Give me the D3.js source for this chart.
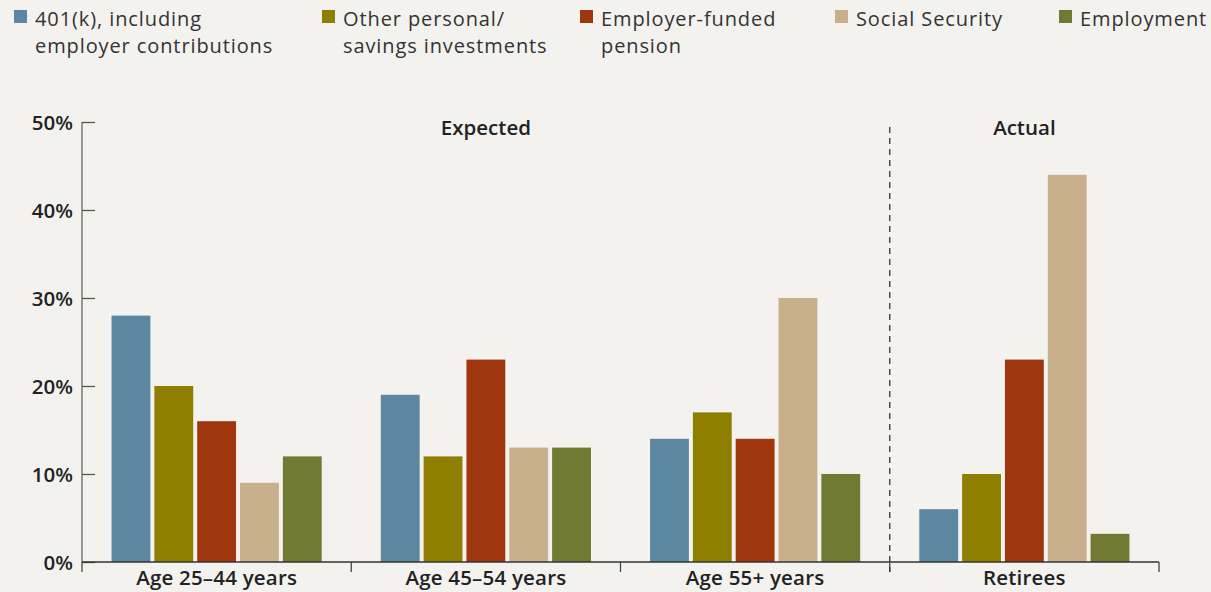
<!DOCTYPE html>
<html>
<head>
<meta charset="utf-8">
<script src="https://cdn.jsdelivr.net/npm/d3@7"></script>
<style>
  html, body { margin: 0; padding: 0; background: #F3F2EE; }
  svg { display: block; font-family: "Open Sans", Lato, sans-serif; }
</style>
</head>
<body>
<svg id="chart" width="1211" height="592"></svg>
<script>
const groups = ["Age 25–44 years", "Age 45–54 years", "Age 55+ years", "Retirees"];
const seriesNames = ["401(k), including employer contributions", "Other personal/ savings investments", "Employer-funded pension", "Social Security", "Employment"];
const legendLines = [["401(k), including", "employer contributions"], ["Other personal/", "savings investments"], ["Employer-funded", "pension"], ["Social Security"], ["Employment"]];
const colors = ["#5B87A1", "#8E7F00", "#A0360E", "#C9B08C", "#717A33"];
const values401k = [28, 19, 14, 6];
const valuesOther = [20, 12, 17, 10];
const valuesPension = [16, 23, 14, 23];
const valuesSocial = [9, 13, 30, 44];
const valuesEmployment = [12, 13, 10, 3.2];
const yTicks = [0, 10, 20, 30, 40, 50];
const sectionLabels = ["Expected", "Actual"];

const seriesValues = [values401k, valuesOther, valuesPension, valuesSocial, valuesEmployment];

(function() {
const FONT = "'Open Sans', Lato, sans-serif";
const svg = d3.select("#chart");
const mLeft = 82, mRight = 1159, mTop = 122, mBottom = 562;

const x0 = d3.scaleBand().domain(groups).range([mLeft, mRight]).padding(0);
const x1 = d3.scaleBand().domain(d3.range(5)).range([0, x0.bandwidth()]).paddingInner(0.093).paddingOuter(0.69);
const y = d3.scaleLinear().domain([0, 50]).range([mBottom, mTop]);

// bars
groups.forEach((g, gi) => {
  svg.append("g").selectAll("rect").data(seriesValues.map((s, si) => ({si, v: s[gi]})))
    .join("rect")
    .attr("x", d => x0(g) + x1(d.si))
    .attr("y", d => y(d.v))
    .attr("width", x1.bandwidth())
    .attr("height", d => y(0) - y(d.v))
    .attr("fill", d => colors[d.si]);
});

// y axis
const yAxis = d3.axisLeft(y).tickValues(yTicks).tickFormat(d => d + "%").tickSize(-13).tickPadding(22);
const yg = svg.append("g").attr("transform", `translate(${mLeft},0)`).call(yAxis);
yg.select(".domain").attr("stroke", "#666").attr("stroke-width", 1.3).attr("d", `M0,${mTop}V${mBottom}`);
yg.selectAll(".tick line").attr("stroke", "#555").attr("stroke-width", 1.3);
yg.selectAll(".tick text").attr("fill", "#222").attr("font-size", 20.5).attr("font-weight", 600)
  .attr("font-family", FONT).attr("dx", 13).attr("dy", "0.36em");

// x axis
const xAxis = d3.axisBottom(x0).tickSize(0).tickPadding(8);
const xg = svg.append("g").attr("transform", `translate(0,${mBottom})`).call(xAxis);
xg.select(".domain").attr("stroke", "#333").attr("stroke-width", 1.5).attr("d", `M${mLeft},0H${mRight}`);
xg.selectAll(".tick text").attr("fill", "#222").attr("font-size", 20.5).attr("font-weight", 600)
  .attr("font-family", FONT).attr("letter-spacing", 0.2);
// group boundary ticks
const bounds = groups.map(g => x0(g)).concat([mRight]);
svg.append("g").selectAll("line").data(bounds).join("line")
  .attr("x1", d => d).attr("x2", d => d)
  .attr("y1", mBottom).attr("y2", mBottom + 10)
  .attr("stroke", "#444").attr("stroke-width", 1.3);

// dashed separator
const sepX = x0(groups[3]);
svg.append("line").attr("x1", sepX).attr("x2", sepX).attr("y1", 127).attr("y2", mBottom + 10)
  .attr("stroke", "#333").attr("stroke-width", 1.3).attr("stroke-dasharray", "6,5");

// section labels
const expectedCenter = (x0(groups[0]) + x0(groups[3])) / 2;
const actualCenter = x0(groups[3]) + x0.bandwidth() / 2;
svg.append("g").selectAll("text").data([expectedCenter, actualCenter]).join("text")
  .attr("x", d => d).attr("y", 135).attr("text-anchor", "middle")
  .attr("font-size", 20.5).attr("font-weight", 600).attr("fill", "#222")
  .text((d, i) => sectionLabels[i]);

// legend
const legendX = [14, 322, 580, 835, 1059];
const lg = svg.append("g").selectAll("g").data(seriesNames).join("g")
  .attr("transform", (d, i) => `translate(${legendX[i]},0)`);
lg.append("rect").attr("x", 0).attr("y", 10).attr("width", 13).attr("height", 13)
  .attr("fill", (d, i) => colors[i]);
lg.each(function(d, i) {
  const t = d3.select(this).append("text").attr("x", 21).attr("y", 26)
    .attr("font-size", 20).attr("fill", "#333").attr("letter-spacing", 0.9);
  legendLines[i].forEach((line, li) => {
    t.append("tspan").attr("x", 21).attr("dy", li === 0 ? 0 : 27).text(line);
  });
});
})();
</script>
</body>
</html>
